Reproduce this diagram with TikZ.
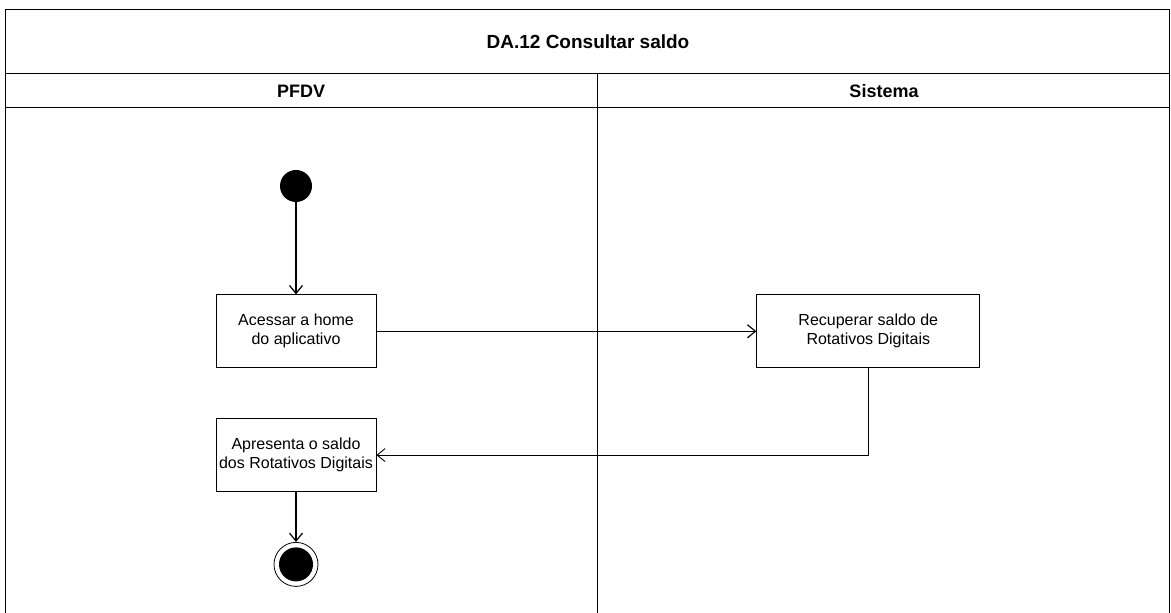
\documentclass[tikz,border=0pt]{standalone}
\usepackage{fontspec}
\setmainfont{Liberation Sans}
\usetikzlibrary{arrows.meta,positioning}

\begin{document}
\begin{tikzpicture}[x=0.5pt,y=-0.5pt,node distance=25pt and 190pt, lane/.style={line width=0.5pt}, act/.style={draw,line width=0.4pt,align=center,inner sep=1pt,minimum width=80pt,minimum height=36.5pt,font=\fontsize{8}{9.5}\selectfont}, head/.style={font=\bfseries\fontsize{9}{11}\selectfont}, startstate/.style={circle,fill,inner sep=0pt,minimum size=16pt}, endstate/.style={circle,draw,line width=0.4pt,inner sep=0pt,minimum size=22pt,path picture={\fill (path picture bounding box.center) circle (8.5pt);}}, arr/.style={-{Straight Barb[length=4pt,width=6.5pt]},line width=0.6pt}, flow/.style={-{Straight Barb[length=4pt,width=6.5pt]},line width=0.45pt}]
\useasboundingbox (0,0) rectangle (1171,613);
\draw[lane] (5,613)--(5,10)--(1169,10)--(1169,613);
\draw[lane] (5,74)--(1169,74) (5,108)--(1169,108) (597,74)--(597,613);
\node[head,font=\bfseries\fontsize{9.5}{11}\selectfont] (title) at (588,42) {DA.12 Consultar saldo};
\node[head] (pfdv) at (301,91) {PFDV};
\node[head] (sistema) at (884,91) {Sistema};
\node[startstate] (start) at (296,186) {};
\node[act,below=46pt of start] (acessar) {Acessar a home\\do aplicativo};
\node[act,right=of acessar,minimum width=111.5pt] (recuperar) {Recuperar saldo de\\Rotativos Digitais};
\node[act,below=of acessar] (apresenta) {Apresenta o saldo\\dos Rotativos Digitais};
\node[endstate,below=of apresenta] (end) {};
\draw[arr](start)--(acessar);\draw[arr](acessar)--(recuperar);\draw[flow](recuperar.south)|-(apresenta.east);\draw[arr](apresenta)--(end);
\end{tikzpicture}
\end{document}
